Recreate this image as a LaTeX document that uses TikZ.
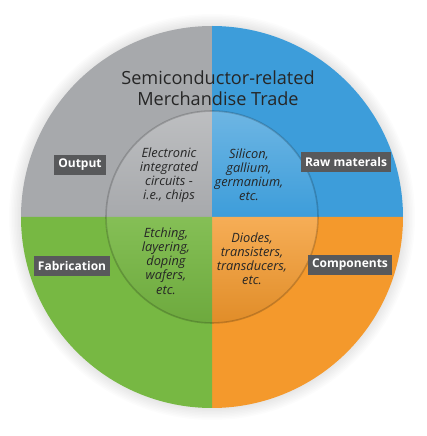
\documentclass[tikz,border=0pt]{standalone}
\usepackage{fontspec}
\setmainfont{Open Sans}
\usepackage{xcolor}
\definecolor{greycol}{HTML}{A7A9AC}
\definecolor{bluecol}{HTML}{3D9DDA}
\definecolor{greencol}{HTML}{77B843}
\definecolor{orangecol}{HTML}{F4992C}
\definecolor{tagcol}{HTML}{58595B}
\begin{document}
\begin{tikzpicture}[x=0.75pt,y=0.75pt]

		\tikzset{tag/.style = {fill=tagcol, text=white, font=\bfseries\fontsize{9}{10}\selectfont, inner xsep=3pt, minimum height=14.5pt}}
		\tikzset{inside/.style = {align=center, text=black!85, font=\itshape\fontsize{9.6}{10.6}\selectfont}}
		\tikzset{heading/.style = {align=center, text=black!85, font=\fontsize{13.6}{15.8}\selectfont}}
		\useasboundingbox (0,0) rectangle (427,436);
		\coordinate (c) at (212,219);
		% halo
		\foreach \r in {1,...,8}
			\fill[black, opacity=0.012] (c) circle (191+1.5*\r);
		% outer quarters
		\fill[greycol] (c) -- ++(-191,0) arc (180:90:191) -- cycle;
		\fill[bluecol] (c) -- ++(0,191) arc (90:0:191) -- cycle;
		\fill[orangecol] (c) -- ++(191,0) arc (0:-90:191) -- cycle;
		\fill[greencol] (c) -- ++(0,-191) arc (270:180:191) -- cycle;
		% inner quarters
		\shade[top color=greycol!75!white, bottom color=greycol] (c) -- ++(-106,0) arc (180:90:106) -- cycle;
		\shade[top color=bluecol!75!white, bottom color=bluecol] (c) -- ++(0,106) arc (90:0:106) -- cycle;
		\shade[top color=orangecol!80!white, bottom color=orangecol!92!black] (c) -- ++(106,0) arc (0:-90:106) -- cycle;
		\shade[top color=greencol!90!white, bottom color=greencol!92!black] (c) -- ++(0,-106) arc (270:180:106) -- cycle;
		\draw[black, opacity=0.18, line width=1.2pt] (c) circle (106);

		% title
		\node[heading] (title) at (218,348) {Semiconductor-related\\Merchandise Trade};
		% inner nodes
		\node[inside] (chips) at (169,261) {Electronic\\integrated\\circuits -\\i.e., chips};
		\node[inside] (silicon) at (249,261) {Silicon,\\gallium,\\germanium,\\etc.};
		\node[inside] (etching) at (166,175) {Etching,\\layering,\\doping\\wafers,\\etc.};
		\node[inside] (diodes) at (252,177) {Diodes,\\transisters,\\transducers,\\etc.};
		% tags
		\node[tag] (output) at (80,271) {Output};
		\node[tag] (raw) at (346,274) {Raw materals};
		\node[tag] (fab) at (72,170) {Fabrication};
		\node[tag] (comp) at (350,171) {Components};

\end{tikzpicture}
\end{document}
